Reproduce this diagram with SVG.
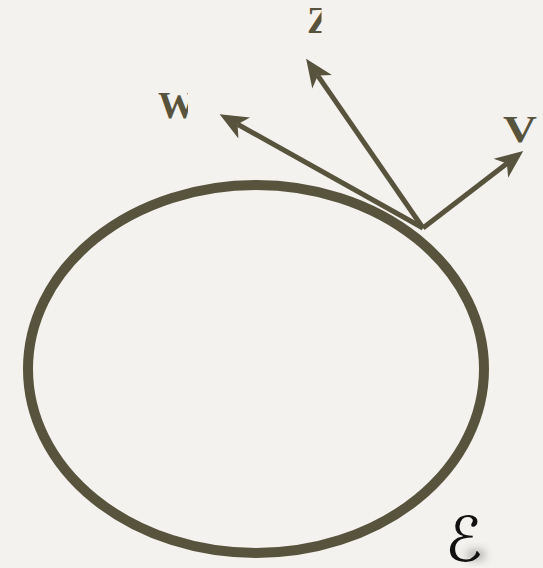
<svg xmlns="http://www.w3.org/2000/svg" width="543" height="568" viewBox="0 0 543 568">
  <style>
    .lbl { font-family: "Liberation Serif", "Times New Roman", serif; font-weight: bold; font-size: 38px; fill: #58533c; }
    .vec { stroke: #58533c; stroke-width: 5; fill: none; }
    .set { font-family: "DejaVu Sans", "Liberation Serif", serif; font-size: 62px; fill: #111; }
  </style>
  <defs>
    <marker id="ah" markerUnits="userSpaceOnUse" markerWidth="30" markerHeight="26" viewBox="0 -12 27 24" refX="7" refY="0" orient="auto">
      <path d="M0,-11 L26,0 L0,11 L7,0 z" fill="#58533c"/>
    </marker>
    <clipPath id="cw"><rect x="150" y="80" width="38" height="45"/></clipPath>
    <clipPath id="cz"><rect x="300" y="0" width="21.5" height="45"/></clipPath>
    <filter id="sh" x="-50%" y="-50%" width="200%" height="200%">
      <feGaussianBlur stdDeviation="4"/>
    </filter>
  </defs>
  <rect width="543" height="568" fill="#f3f2ee"/>
  <g id="ellipse-E">
    <ellipse cx="256" cy="369" rx="228" ry="184" fill="none" stroke="#58533c" stroke-width="10"/>
  </g>
  <g id="connectors">
    <line class="vec" x1="423" y1="228" x2="237.6" y2="124.3" marker-end="url(#ah)"/>
    <line class="vec" x1="423" y1="228" x2="317.8" y2="75.6" marker-end="url(#ah)"/>
    <line class="vec" x1="423" y1="228" x2="506.9" y2="163.6" marker-end="url(#ah)"/>
  </g>
  <g id="label-w"><text class="lbl" x="158" y="118" clip-path="url(#cw)">W</text></g>
  <g id="label-z"><text class="lbl" x="307" y="33" clip-path="url(#cz)">Z</text></g>
  <g id="label-v"><text class="lbl" x="503" y="142" textLength="34" lengthAdjust="spacingAndGlyphs">V</text></g>
  <g id="label-E">
    <ellipse cx="476" cy="555" rx="10" ry="6" fill="#777" opacity="0.5" filter="url(#sh)"/>
    <text class="set" x="445" y="561">ℰ</text>
  </g>
</svg>
